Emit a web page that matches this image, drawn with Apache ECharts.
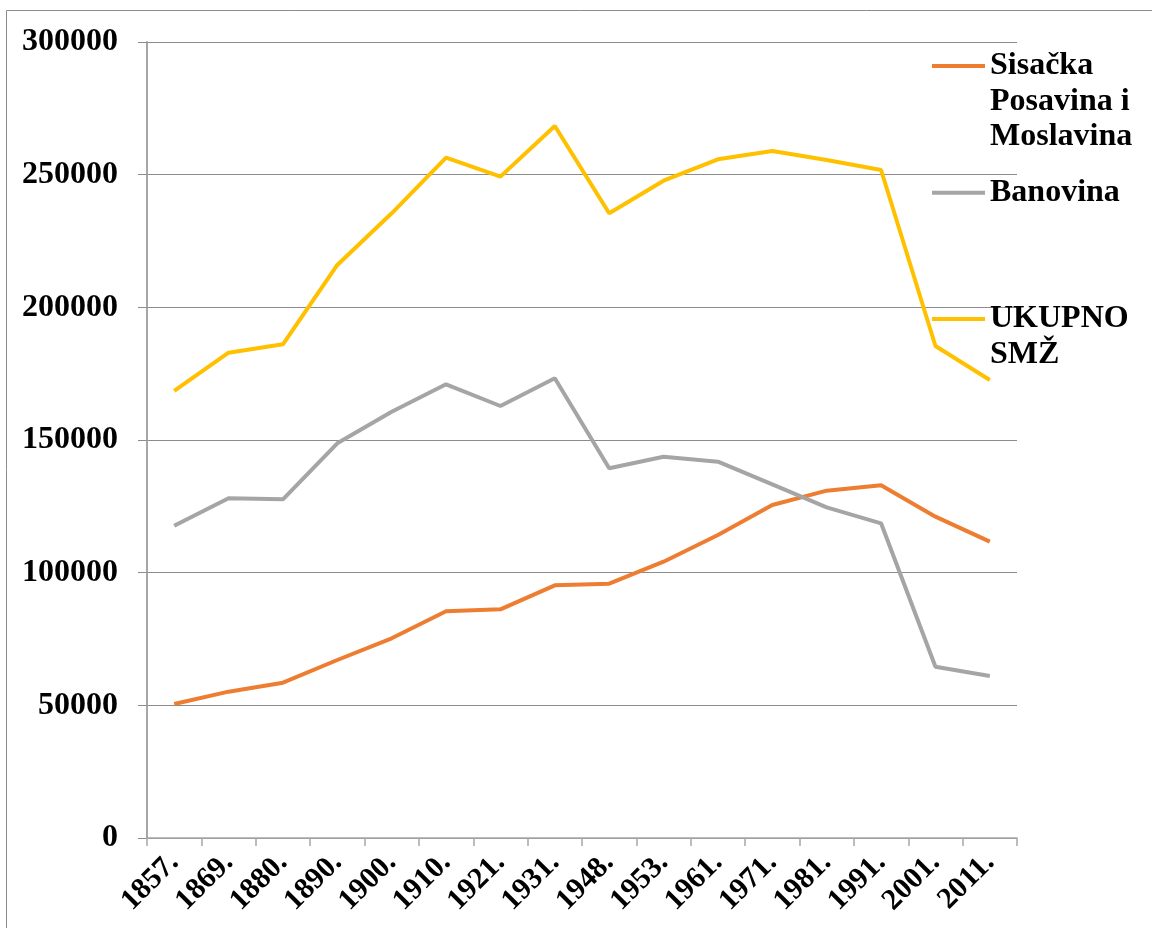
<!DOCTYPE html>
<html>
<head>
<meta charset="utf-8">
<script src="https://cdn.jsdelivr.net/npm/echarts@6/dist/echarts.min.js"></script>
<style>
    html, body { margin: 0; padding: 0; background: #fff; }
    #chart { width: 1152px; height: 928px; }
</style>
</head>
<body>
<div id="chart"></div>
<script>
var years = ['1857.', '1869.', '1880.', '1890.', '1900.', '1910.', '1921.', '1931.',
    '1948.', '1953.', '1961.', '1971.', '1981.', '1991.', '2001.', '2011.'];
var sisacka = [50500, 55150, 58540, 67090, 75260, 85440, 86190, 95240,
    95850, 104140, 114200, 125510, 130900, 132920, 121100, 111680];
var banovina = [117700, 128030, 127650, 148760, 160670, 171000, 162820, 173260,
    139330, 143710, 141830, 133300, 124630, 118600, 64570, 61060];
var ukupno = [168475, 182900, 186070, 215960, 235440, 256400, 249250, 268350,
    235440, 247740, 255800, 258930, 255540, 251770, 185430, 172620];

var serif = "'Liberation Serif', 'Times New Roman', serif";
var chart = echarts.init(document.getElementById('chart'));

// one legend per series; blank lines on top keep the icon level with the first text line
function legendItem(name, top, blankLines) {
    return {
        data: [name],
        orient: 'vertical',
        left: 932,
        top: top,
        padding: 0,
        icon: 'rect',
        itemWidth: 53,
        itemHeight: 4,
        itemGap: 0,
        formatter: function (n) {
            return new Array(blankLines + 1).join('\n') + n;
        },
        textStyle: {
            fontFamily: serif,
            fontWeight: 'bold',
            fontSize: 32,
            lineHeight: 35.5,
            color: '#000'
        }
    };
}

var option = {
    animation: false,
    backgroundColor: '#fff',
    color: ['#ED7D31', '#A5A5A5', '#FFC000'],
    graphic: [{
        type: 'rect',
        shape: { x: 6.5, y: 10.5, width: 1300, height: 1000 },
        style: { fill: 'none', stroke: '#8c8c8c', lineWidth: 1 }
    }],
    legend: [
        legendItem('Sisačka\nPosavina i\nMoslavina', -22.75, 2),
        legendItem('Banovina', 175, 0),
        legendItem('UKUPNO\nSMŽ', 265.75, 1)
    ],
    grid: {
        left: 147,
        top: 42,
        right: 135,
        bottom: 90,
        outerBoundsMode: 'none'
    },
    xAxis: {
        type: 'category',
        data: years,
        boundaryGap: true,
        axisLine: { lineStyle: { color: '#a6a6a6', width: 1.5 } },
        axisTick: { show: true, length: 8, lineStyle: { color: '#a6a6a6', width: 1.5 } },
        axisLabel: {
            interval: 0,
            rotate: 45,
            margin: 20,
            fontFamily: serif,
            fontWeight: 'bold',
            fontSize: 30,
            color: '#000'
        }
    },
    yAxis: {
        type: 'value',
        min: 0,
        max: 300000,
        interval: 50000,
        axisLine: { show: true, lineStyle: { color: '#a6a6a6', width: 2 } },
        axisTick: { show: true, length: 9, lineStyle: { color: '#8c8c8c', width: 1 } },
        splitLine: { lineStyle: { color: '#8c8c8c', width: 1 } },
        axisLabel: {
            margin: 29,
            formatter: function (v) { return String(v); },
            fontFamily: serif,
            fontWeight: 'bold',
            fontSize: 32,
            color: '#000'
        }
    },
    series: [
        {
            name: 'Sisačka\nPosavina i\nMoslavina',
            type: 'line',
            data: sisacka,
            symbol: 'none',
            lineStyle: { width: 4 }
        },
        {
            name: 'Banovina',
            type: 'line',
            data: banovina,
            symbol: 'none',
            lineStyle: { width: 4 }
        },
        {
            name: 'UKUPNO\nSMŽ',
            type: 'line',
            data: ukupno,
            symbol: 'none',
            lineStyle: { width: 4 }
        }
    ]
};
chart.setOption(option);
</script>
</body>
</html>
